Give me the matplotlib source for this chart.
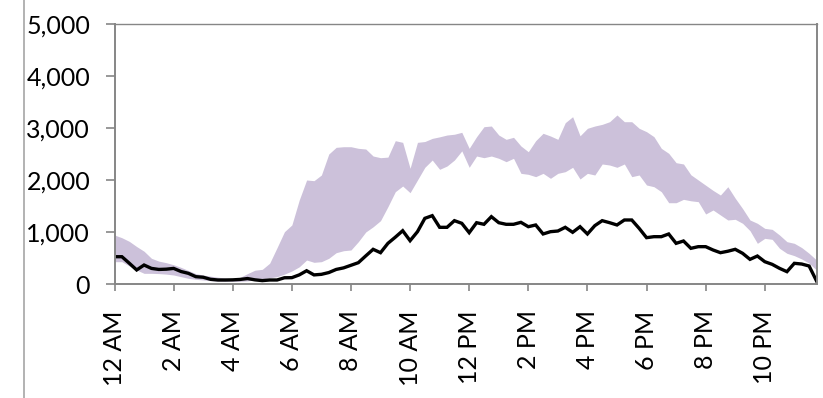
import matplotlib
matplotlib.use("Agg")
import matplotlib.pyplot as plt
from matplotlib.lines import Line2D
from matplotlib.ticker import FuncFormatter

outputFile = "out.png"

# 15-minute intervals over one day (96 points)
tickLabels = ["12 AM", "2 AM", "4 AM", "6 AM", "8 AM", "10 AM",
              "12 PM", "2 PM", "4 PM", "6 PM", "8 PM", "10 PM"]

lineVals = [525, 525, 400, 270, 365, 300, 280, 285, 300, 240, 205, 141,
            130, 90, 77, 77, 80, 88, 105, 80, 65, 77, 77, 120,
            122, 175, 255, 175, 186, 220, 280, 310, 360, 410, 540, 667,
            602, 782, 900, 1025, 833, 1006, 1263, 1314, 1090, 1090, 1218, 1167,
            987, 1179, 1148, 1295, 1179, 1148, 1148, 1186, 1102, 1135, 962, 1006,
            1019, 1090, 994, 1102, 962, 1122, 1218, 1179, 1135, 1231, 1231, 1070,
            891, 910, 910, 962, 782, 827, 686, 718, 718, 654, 602, 630,
            667, 590, 474, 538, 429, 378, 301, 237, 398, 384, 346, 60]

upperVals = [942, 890, 820, 720, 630, 494, 440, 410, 370, 320, 260, 200,
             173, 150, 130, 115, 100, 128, 200, 265, 282, 400, 700, 1006,
             1135, 1615, 2000, 1987, 2096, 2500, 2628, 2640, 2640, 2609, 2596, 2461,
             2429, 2440, 2756, 2724, 2225, 2724, 2740, 2800, 2830, 2865, 2880, 2917,
             2609, 2833, 3025, 3038, 2865, 2782, 2821, 2654, 2544, 2756, 2898, 2846,
             2782, 3102, 3217, 2850, 2994, 3038, 3070, 3121, 3250, 3121, 3121, 2994,
             2929, 2833, 2609, 2513, 2333, 2308, 2100, 2000, 1900, 1800, 1711, 1871,
             1650, 1450, 1231, 1167, 1070, 1051, 942, 814, 782, 700, 590, 461]

lowerVals = [429, 429, 346, 269, 205, 205, 200, 190, 173, 141, 109, 90,
             77, 64, 55, 50, 50, 50, 60, 77, 100, 120, 141, 190,
             250, 330, 461, 417, 429, 494, 602, 640, 654, 814, 1000, 1100,
             1218, 1487, 1775, 1884, 1756, 2000, 2244, 2384, 2205, 2269, 2384, 2560,
             2244, 2461, 2429, 2461, 2417, 2352, 2417, 2128, 2109, 2064, 2128, 2032,
             2128, 2160, 2244, 2019, 2128, 2096, 2308, 2288, 2244, 2308, 2064, 2096,
             1904, 1871, 1775, 1563, 1563, 1628, 1600, 1583, 1346, 1423, 1327, 1231,
             1244, 1167, 1025, 782, 878, 859, 686, 590, 545, 481, 400, 269]

xs = list(range(len(lineVals)))

plt.rcParams["font.family"] = ["Lato", "DejaVu Sans"]

fig = plt.figure(figsize=(8.23, 3.98), dpi=100)
ax = fig.add_axes([114.5 / 823, 114 / 398, 702 / 823, 260 / 398])

ax.fill_between(xs, lowerVals, upperVals, color="#CCC1DA", linewidth=0)
ax.plot(xs, lineVals, color="black", linewidth=2.4, solid_joinstyle="miter")

ax.set_xlim(0, 95)
ax.set_ylim(0, 5000)
ax.set_yticks(range(0, 5001, 1000))
ax.yaxis.set_major_formatter(FuncFormatter(lambda v, p: "{:,.0f}".format(v)))
ax.set_xticks(range(0, 96, 8))
ax.set_xticklabels(tickLabels, rotation=90)

for side in ["left", "bottom", "right", "top"]:
    ax.spines[side].set_color("#868686")
    ax.spines[side].set_linewidth(1.4)
ax.spines["top"].set_linewidth(1.0)

ax.tick_params(axis="y", direction="out", length=6.5, width=1.2, color="#868686",
               pad=11, labelsize=18, labelcolor="black")
ax.tick_params(axis="x", direction="out", length=5, width=1.2, color="#868686",
               pad=14, labelsize=18, labelcolor="black")

# stray border on the left of the image
fig.add_artist(Line2D([24 / 823, 24 / 823], [0, 1], transform=fig.transFigure,
                      color="#A6A6A6", linewidth=1.2))

plt.savefig(outputFile, dpi=100)
